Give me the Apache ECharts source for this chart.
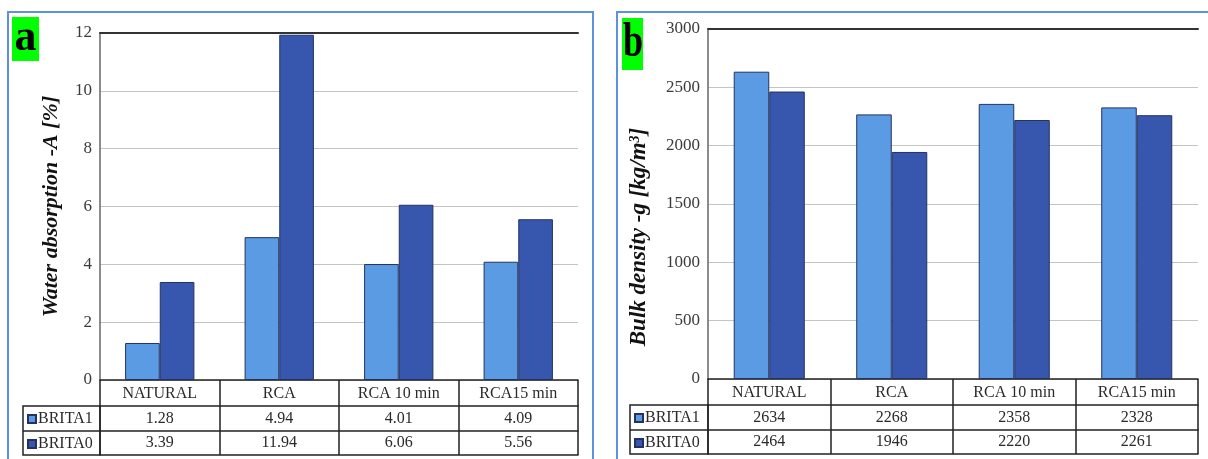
<!DOCTYPE html>
<html><head><meta charset="utf-8">
<script src="https://cdn.jsdelivr.net/npm/echarts@6/dist/echarts.min.js"></script>
<style>html,body{margin:0;padding:0;background:#fff}#c{width:1208px;height:459px}</style>
</head><body><div id="c"></div>
<script>
const categories = ['NATURAL', 'RCA', 'RCA 10 min', 'RCA15 min'];
const seriesNames = ['BRITA1', 'BRITA0'];
const waterBrita1 = [1.28, 4.94, 4.01, 4.09];
const waterBrita0 = [3.39, 11.94, 6.06, 5.56];
const densityBrita1 = [2634, 2268, 2358, 2328];
const densityBrita0 = [2464, 1946, 2220, 2261];

const SERIF = 'Liberation Serif';
const LIGHT = '#5a9be4';
const DARK = '#3757ae';
const chart = echarts.init(document.getElementById('c'), null, {renderer: 'canvas'});

function tableAxes(g, row1, row2) {
  const lineBlack = {show: true, lineStyle: {color: '#222', width: 1.5}};
  const lbl = {fontFamily: SERIF, fontSize: 16, color: '#2a2a2a', margin: 6, interval: 0};
  return [
    {type: 'category', gridIndex: g, position: 'bottom', offset: 0, data: categories,
     axisLine: lineBlack, axisTick: {show: true, interval: 0, length: 26, lineStyle: {color: '#222', width: 1.5}},
     axisLabel: lbl},
    {type: 'category', gridIndex: g, position: 'bottom', offset: 26, data: row1,
     axisLine: lineBlack, axisTick: {show: true, interval: 0, length: 25, lineStyle: {color: '#222', width: 1.5}},
     axisLabel: Object.assign({}, lbl, {margin: 5})},
    {type: 'category', gridIndex: g, position: 'bottom', offset: 51, data: row2,
     axisLine: lineBlack, axisTick: {show: true, interval: 0, length: 24, lineStyle: {color: '#222', width: 1.5}},
     axisLabel: Object.assign({}, lbl, {margin: 4})},
    {type: 'category', gridIndex: g, position: 'bottom', offset: 75, data: categories,
     axisLine: lineBlack, axisTick: {show: false}, axisLabel: {show: false}},
    {type: 'category', gridIndex: g, position: 'top', data: categories,
     axisLine: {show: true, lineStyle: {color: '#333', width: 2}}, axisTick: {show: false}, axisLabel: {show: false}}
  ];
}

const xAxes = tableAxes(0, waterBrita1.map(v => v.toFixed(2)), waterBrita0.map(v => v.toFixed(2)))
  .concat(tableAxes(1, densityBrita1.map(String), densityBrita0.map(String)));

const yLabel = {fontFamily: SERIF, fontSize: 17, color: '#3b3b3b', margin: 8, formatter: v => String(v)};
const nameStyleA = {fontFamily: SERIF, fontSize: 22, fontStyle: 'italic', fontWeight: 'bold', color: '#111'};
const nameStyleB = {fontFamily: SERIF, fontSize: 23, fontStyle: 'italic', fontWeight: 'bold', color: '#111'};

function bar(name, data, color, xi, yi) {
  return {type: 'bar', name: name, data: data, xAxisIndex: xi, yAxisIndex: yi,
    barGap: '0%', barCategoryGap: '42%',
    itemStyle: {color: color, borderColor: '#24325f', borderWidth: 1}};
}

const option = {
  animation: false,
  backgroundColor: '#fff',
  grid: [
    {left: 100, top: 33, width: 478, height: 347},
    {left: 708, top: 29, width: 490, height: 350}
  ],
  xAxis: xAxes,
  yAxis: [
    {type: 'value', gridIndex: 0, min: 0, max: 12, interval: 2,
     name: 'Water absorption -A [%]', nameLocation: 'middle', nameGap: 38, nameTextStyle: nameStyleA,
     axisLine: {show: true, lineStyle: {color: '#666', width: 1.5}}, axisTick: {show: false},
     axisLabel: yLabel, splitLine: {lineStyle: {color: '#c4c4c4', width: 1}}},
    {type: 'value', gridIndex: 1, min: 0, max: 3000, interval: 500,
     name: '{n|Bulk density -g [kg/m}{s|3}{n|]}', nameLocation: 'middle', nameGap: 57,
     nameTextStyle: Object.assign({}, nameStyleB, {padding: [0, 66, 0, 0], rich: {
       n: nameStyleB,
       s: Object.assign({}, nameStyleB, {fontSize: 14, verticalAlign: 'top', padding: [0, 0, 8, 0]})
     }}),
     axisLine: {show: true, lineStyle: {color: '#666', width: 1.5}}, axisTick: {show: false},
     axisLabel: yLabel, splitLine: {lineStyle: {color: '#c4c4c4', width: 1}}}
  ],
  legend: [
    {orient: 'vertical', left: 27, top: 411, padding: 0, itemGap: 9, itemWidth: 8, itemHeight: 8,
     icon: 'rect', data: seriesNames, selectedMode: false,
     textStyle: {fontFamily: SERIF, fontSize: 16, lineHeight: 16, color: '#2a2a2a', padding: [0, 0, 0, -3]}},
    {orient: 'vertical', left: 634, top: 410, padding: 0, itemGap: 9, itemWidth: 8, itemHeight: 8,
     icon: 'rect', data: seriesNames, selectedMode: false,
     textStyle: {fontFamily: SERIF, fontSize: 16, lineHeight: 16, color: '#2a2a2a', padding: [0, 0, 0, -3]}}
  ],
  series: [
    bar(seriesNames[0], waterBrita1, LIGHT, 0, 0),
    bar(seriesNames[1], waterBrita0, DARK, 0, 0),
    bar(seriesNames[0], densityBrita1, LIGHT, 5, 1),
    bar(seriesNames[1], densityBrita0, DARK, 5, 1)
  ],
  graphic: [
    {type: 'rect', shape: {x: 8, y: 12, width: 585, height: 470}, style: {fill: null, stroke: '#5d92dc', lineWidth: 2}, silent: true},
    {type: 'rect', shape: {x: 617, y: 12, width: 600, height: 470}, style: {fill: null, stroke: '#5d92dc', lineWidth: 2}, silent: true},
    {type: 'rect', shape: {x: 23, y: 406, width: 77, height: 49}, style: {fill: null, stroke: '#222', lineWidth: 1.5}, silent: true},
    {type: 'line', shape: {x1: 23, y1: 431, x2: 100, y2: 431}, style: {stroke: '#222', lineWidth: 1.5}, silent: true},
    {type: 'rect', shape: {x: 630, y: 405, width: 78, height: 49}, style: {fill: null, stroke: '#222', lineWidth: 1.5}, silent: true},
    {type: 'line', shape: {x1: 630, y1: 430, x2: 708, y2: 430}, style: {stroke: '#222', lineWidth: 1.5}, silent: true},
    {type: 'rect', shape: {x: 12, y: 17, width: 27, height: 44}, style: {fill: '#00ff00'}, silent: true},
    {type: 'text', x: 25.5, y: 39, style: {text: 'a', font: 'bold 44px "Liberation Serif"', fill: '#000', align: 'center', verticalAlign: 'middle'}, silent: true},
    {type: 'rect', shape: {x: 622, y: 18, width: 21, height: 52}, style: {fill: '#00ff00'}, silent: true},
    {type: 'text', x: 633, y: 44, scaleX: 0.75, style: {text: 'b', font: 'bold 48px "Liberation Serif"', fill: '#000', align: 'center', verticalAlign: 'middle'}, silent: true}
  ]
};
chart.setOption(option);
</script></body></html>
